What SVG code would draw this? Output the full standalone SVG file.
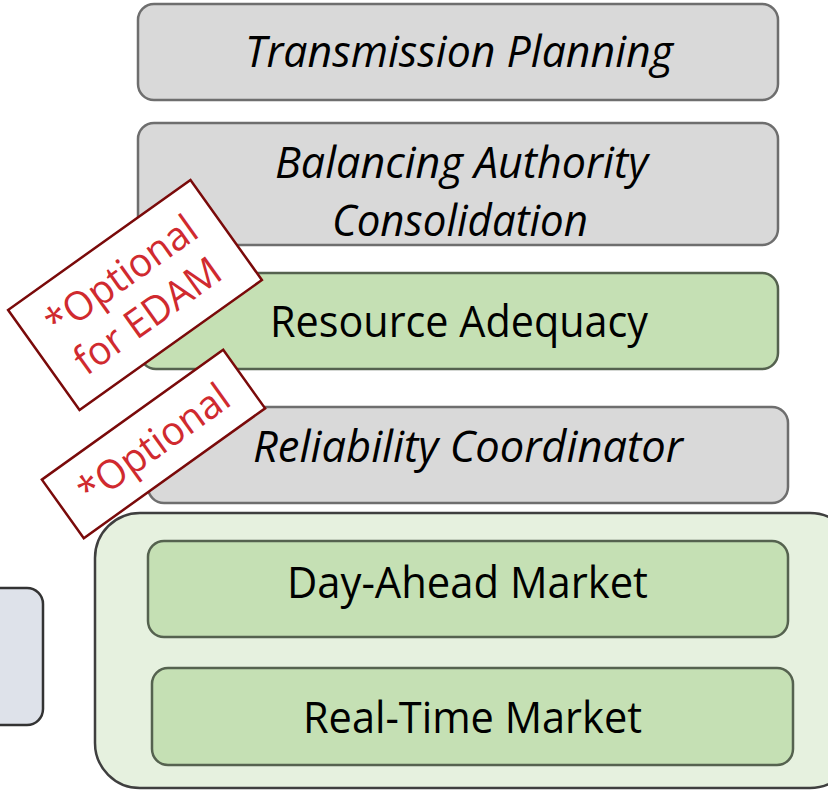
<svg xmlns="http://www.w3.org/2000/svg" width="828" height="790" viewBox="0 0 828 790">
<style>
.gray{fill:#D9D9D9;stroke:#6E6E6E;stroke-width:2.5}
.green{fill:#C5E0B4;stroke:#55624F;stroke-width:2.5}
.outer{fill:#E6F1DF;stroke:#3F3F3F;stroke-width:2.5}
.blue{fill:#DEE2EA;stroke:#333333;stroke-width:2.5}
.tag{fill:#FFFFFF;stroke:#7A0A0A;stroke-width:2.5}
.t{font-family:"Open Sans","Noto Sans",sans-serif;font-size:44px;fill:#000;text-anchor:middle}
.i{font-style:italic}
.r{font-family:"Open Sans","Noto Sans",sans-serif;font-size:40px;fill:#D02A2F;text-anchor:middle}
</style>
<rect width="828" height="790" fill="#FFFFFF"/>
<g id="transmission-planning">
<rect class="gray" x="138" y="4" width="640" height="96" rx="16"/>
<text class="t i" x="459" y="67" textLength="428" lengthAdjust="spacingAndGlyphs">Transmission Planning</text>
</g>
<g id="balancing-authority">
<rect class="gray" x="138" y="123" width="640" height="122" rx="16"/>
<text class="t i" x="461.5" y="178" textLength="373" lengthAdjust="spacingAndGlyphs">Balancing Authority</text>
<text class="t i" x="460" y="236" textLength="256" lengthAdjust="spacingAndGlyphs">Consolidation</text>
</g>
<g id="resource-adequacy">
<rect class="green" x="140" y="273" width="638" height="96" rx="16"/>
<text class="t" x="459" y="337" textLength="378" lengthAdjust="spacingAndGlyphs">Resource Adequacy</text>
</g>
<g id="reliability-coordinator">
<rect class="gray" x="148" y="407" width="640" height="96" rx="16"/>
<text class="t i" x="468" y="462" textLength="430" lengthAdjust="spacingAndGlyphs">Reliability Coordinator</text>
</g>
<g id="left-box">
<rect class="blue" x="-30" y="588" width="73" height="137" rx="16"/>
</g>
<g id="market-container">
<rect class="outer" x="95" y="513" width="760" height="275" rx="45"/>
</g>
<g id="day-ahead-market">
<rect class="green" x="148" y="541" width="640" height="96" rx="16"/>
<text class="t" x="467.5" y="598" textLength="361" lengthAdjust="spacingAndGlyphs">Day-Ahead Market</text>
</g>
<g id="real-time-market">
<rect class="green" x="152" y="668" width="641" height="97" rx="16"/>
<text class="t" x="472.5" y="733" textLength="339" lengthAdjust="spacingAndGlyphs">Real-Time Market</text>
</g>
<g id="connectors"></g>
<g id="tag-optional-edam" transform="translate(135 295) rotate(-35.5)">
<rect class="tag" x="-112" y="-61.5" width="224" height="123"/>
<text class="r" x="0" y="-10" textLength="176" lengthAdjust="spacingAndGlyphs">*Optional</text>
<text class="r" x="-2" y="38" textLength="170" lengthAdjust="spacingAndGlyphs">for EDAM</text>
</g>
<g id="tag-optional" transform="translate(153.5 444) rotate(-35.6)">
<rect class="tag" x="-111.5" y="-36" width="223" height="72"/>
<text class="r" x="0" y="14" textLength="176" lengthAdjust="spacingAndGlyphs">*Optional</text>
</g>
</svg>
